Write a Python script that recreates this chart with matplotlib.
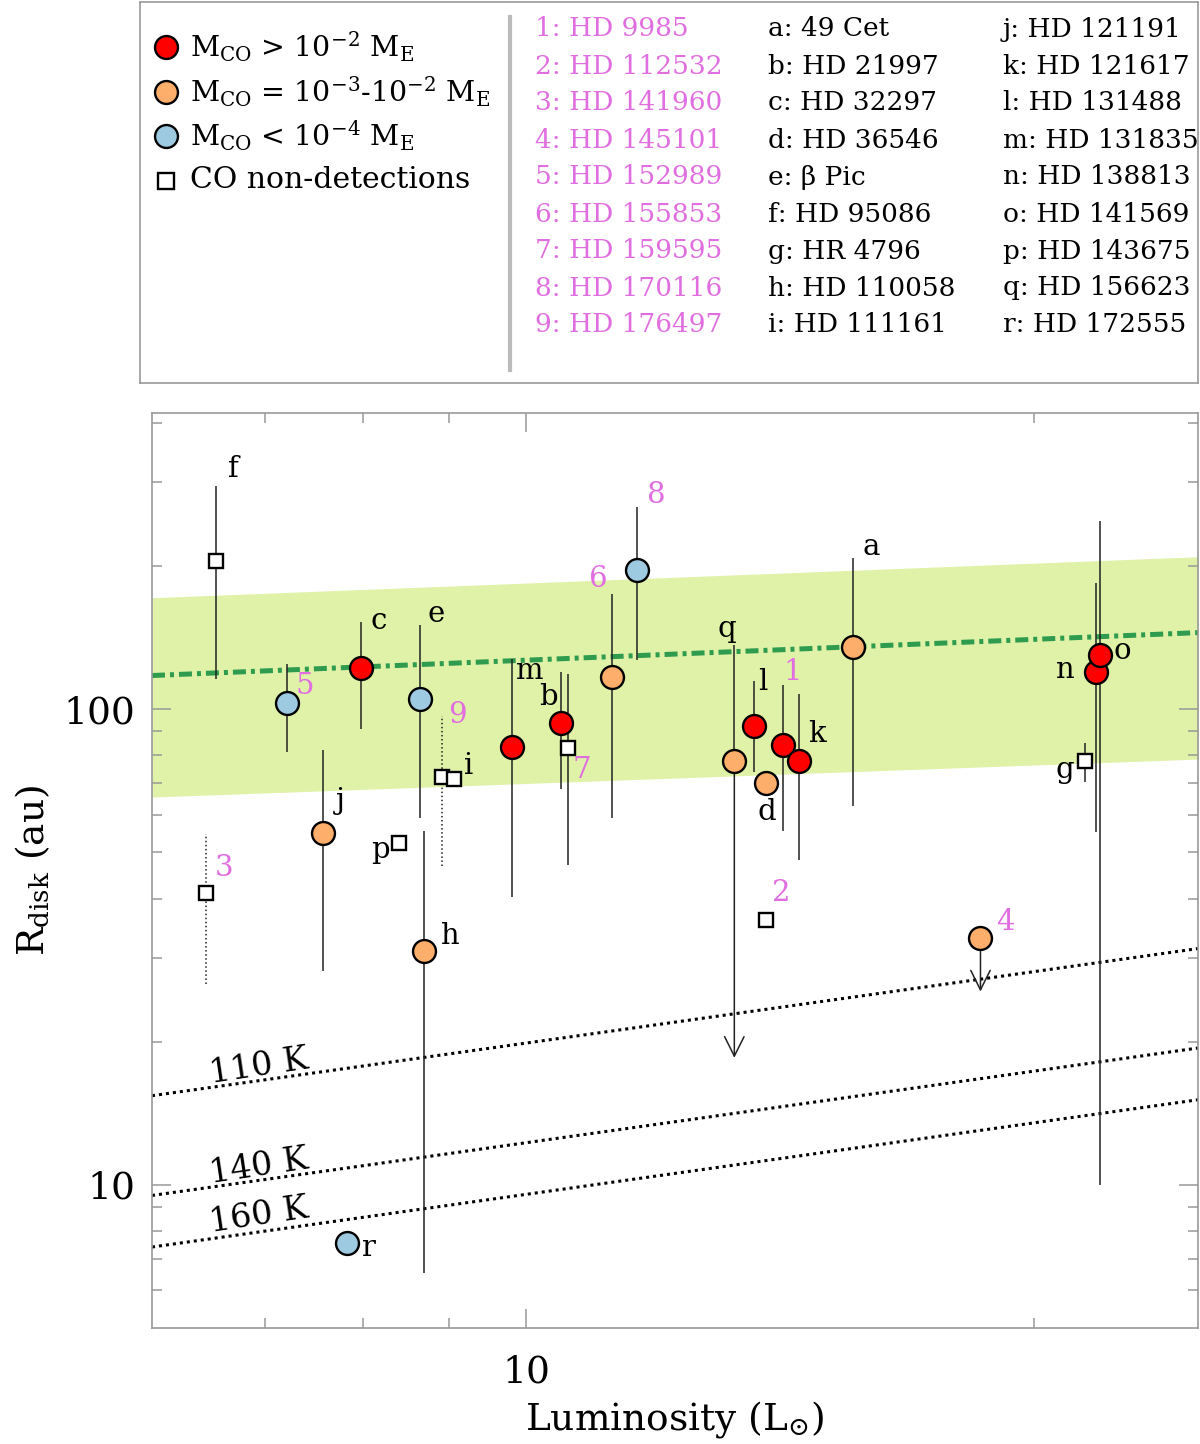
import numpy as np
import matplotlib
matplotlib.use("Agg")
from matplotlib import pyplot as plt
from matplotlib import ticker

plt.rcParams['font.family'] = 'DejaVu Serif'
plt.rcParams['mathtext.fontset'] = 'dejavuserif'

# ---- data (L in Lsun, R in au) ----
red_ids = ['c', 'm', 'b', 'l', '1', 'k', 'n', 'o']
red_L = [7.98, 9.81, 10.49, 13.64, 14.19, 14.51, 21.74, 21.88]
red_R = [122.3, 83.5, 93.8, 92.3, 84.1, 77.9, 120.0, 130.0]
red_lo = [91.1, 40.4, 68.0, 73.8, 55.4, 48.1, 55.1, 10.0]
red_hi = [152.9, 127.7, 119.7, 114.6, 112.4, 107.9, 184.4, 249.4]

orange_ids = ['j', 'h', '6', 'q', 'd', 'a', '4']
orange_L = [7.58, 8.70, 11.24, 13.28, 13.86, 15.61, 18.58]
orange_R = [55.0, 31.1, 116.9, 77.7, 70.0, 135.3, 33.1]
orange_lo = [28.2, 6.54, 59.1, 77.7, np.nan, 62.5, np.nan]
orange_hi = [82.0, 55.5, 175.1, 136.4, np.nan, 208.5, np.nan]

blue_ids = ['5', 'e', '8', 'r']
blue_L = [7.21, 8.65, 11.63, 7.83]
blue_R = [102.9, 104.9, 196.6, 7.56]
blue_lo = [81.2, 59.1, 126.9, np.nan]
blue_hi = [124.7, 150.2, 266.1, np.nan]

sq_ids = ['f', '9', 'i', '7', 'p', '3', '2', 'g']
sq_L = [6.55, 8.91, 9.06, 10.58, 8.40, 6.46, 13.87, 21.42]
sq_R = [205.6, 71.9, 71.3, 82.9, 52.4, 41.0, 36.1, 77.7]
sq_lo = [116.1, 46.9, np.nan, 47.1, np.nan, 26.5, np.nan, 70.4]
sq_hi = [294.9, 96.8, np.nan, 118.8, np.nan, 54.7, np.nan, 85.1]
dotted_ids = ['9', '3']

# upper limits (arrow tips)
arrow_ids = ['q', '4']
arrow_to = [18.5, 25.5]

# band + fitted line, given at the two ends of the axis
band_L = [6, 25]
band_lo = [65.4, 78.6]
band_hi = [171.7, 209.4]
band_mid = [117.8, 145.0]

# blackbody temperature lines
temp_labels = ['110 K', '140 K', '160 K']
temp_L = [6, 25]
temp_R = [[15.4, 31.4], [9.5, 19.4], [7.4, 15.1]]
temp_text_R = [16.4, 10.1, 7.95]

legend_numbered = ['1: HD 9985', '2: HD 112532', '3: HD 141960', '4: HD 145101',
                   '5: HD 152989', '6: HD 155853', '7: HD 159595', '8: HD 170116',
                   '9: HD 176497']
legend_col2 = ['a: 49 Cet', 'b: HD 21997', 'c: HD 32297', 'd: HD 36546',
               'e: β Pic', 'f: HD 95086', 'g: HR 4796', 'h: HD 110058',
               'i: HD 111161']
legend_col3 = ['j: HD 121191', 'k: HD 121617', 'l: HD 131488', 'm: HD 131835',
               'n: HD 138813', 'o: HD 141569', 'p: HD 143675', 'q: HD 156623',
               'r: HD 172555']

# label offsets in pixels (dx right, dy up)
label_off = {'f': (17, 92), '5': (18, 17), 'c': (18, 47), 'e': (16, 85),
             '9': (16, 62), 'i': (15, 13), 'm': (17, 76), 'b': (-13, 26),
             '7': (14, -22), '6': (-14, 98), '8': (19, 75), 'j': (17, 32),
             'p': (-18, -7), 'h': (26, 15), '3': (18, 25), 'q': (-7, 132),
             'l': (9, 44), '1': (10, 73), 'k': (18, 27), 'd': (1, -29),
             'a': (18, 100), '2': (15, 27), '4': (25, 16), 'g': (-20, -9),
             'n': (-30, 2), 'o': (22, 4), 'r': (22, -5)}

RED = '#ff0000'
ORANGE = '#fdae6b'
BLUE = '#9ecae1'
PINK = '#e06ee0'
GREY = '#999999'

fig = plt.figure(figsize=(12, 14.44), dpi=100)
ax = fig.add_axes([152 / 1200, 116 / 1444, 1046 / 1200, 915 / 1444])
ax.set_xscale('log')
ax.set_yscale('log')
ax.set_xlim(6, 25)
ax.set_ylim(5, 420)

ax.fill_between(band_L, band_lo, band_hi, color='#dff2a8', lw=0, zorder=0)
ax.plot(band_L, band_mid, color='#2e9b4f', lw=3.6, ls=(0, (2.6, 1.0, 0.8, 1.0)), zorder=1)

for lab, rr, ty in zip(temp_labels, temp_R, temp_text_R):
    ax.plot(temp_L, rr, color='black', lw=2.2, ls=(0, (1, 1.3)), zorder=1)
    ax.text(6.5, ty, lab, fontsize=24, rotation=8.5, rotation_mode='anchor',
            ha='left', va='baseline', zorder=3)

groups = [
    (red_ids, red_L, red_R, red_lo, red_hi, 'o', RED, 16.5),
    (orange_ids, orange_L, orange_R, orange_lo, orange_hi, 'o', ORANGE, 16.5),
    (blue_ids, blue_L, blue_R, blue_lo, blue_hi, 'o', BLUE, 16.5),
    (sq_ids, sq_L, sq_R, sq_lo, sq_hi, 's', 'white', 10.5),
]

for ids, L, R, lo, hi, mk, col, ms in groups:
    for i, name in enumerate(ids):
        if not np.isnan(lo[i]):
            ls = ':' if name in dotted_ids else '-'
            ax.vlines(L[i], lo[i], hi[i], color='#222222', lw=1.1, linestyles=ls, zorder=2)
    ax.plot(L, R, ls='none', marker=mk, ms=ms, mfc=col, mec='black', mew=1.7, zorder=4)
    for i, name in enumerate(ids):
        dx, dy = label_off[name]
        ax.annotate(name, (L[i], R[i]), xytext=(dx * 0.72, dy * 0.72),
                    textcoords='offset points', ha='center', va='center',
                    fontsize=21, color=PINK if name.isdigit() else 'black', zorder=5)

all_ids = red_ids + orange_ids + blue_ids + sq_ids
all_L = red_L + orange_L + blue_L + sq_L
all_R = red_R + orange_R + blue_R + sq_R
for name, tip in zip(arrow_ids, arrow_to):
    k = all_ids.index(name)
    ax.annotate('', xy=(all_L[k], tip), xytext=(all_L[k], all_R[k]),
                arrowprops=dict(arrowstyle='->,head_length=0.7,head_width=0.35',
                                color='#222222', lw=1.1, mutation_scale=20,
                                shrinkA=0, shrinkB=0), zorder=2)

ax.xaxis.set_major_locator(ticker.FixedLocator([10]))
ax.xaxis.set_minor_locator(ticker.FixedLocator([7, 8, 9, 20]))
ax.xaxis.set_major_formatter(ticker.FixedFormatter(['10']))
ax.xaxis.set_minor_formatter(ticker.NullFormatter())
ax.yaxis.set_major_locator(ticker.FixedLocator([10, 100]))
ax.yaxis.set_minor_locator(ticker.FixedLocator([6, 7, 8, 9, 20, 30, 40, 50, 60, 70, 80, 90,
                                                200, 300, 400]))
ax.yaxis.set_major_formatter(ticker.FixedFormatter(['10', '100']))
ax.yaxis.set_minor_formatter(ticker.NullFormatter())
ax.tick_params(which='both', direction='in', top=True, right=True, color=GREY, width=1.1)
ax.tick_params(which='major', length=14, labelsize=27)
ax.tick_params(which='minor', length=7)
ax.tick_params(axis='x', which='major', pad=19)
ax.tick_params(axis='y', which='major', pad=12)
for sp in ax.spines.values():
    sp.set_color(GREY)
    sp.set_linewidth(1.2)

ax.set_xlabel(r'Luminosity (L$_{\odot}$)', fontsize=27, labelpad=6)
ax.set_ylabel(r'R$_{\rm disk}$ (au)', fontsize=27, labelpad=8)

# ---- legend box on top ----
lg = fig.add_axes([140 / 1200, 1061 / 1444, 1058 / 1200, 381 / 1444])
lg.set_xlim(0, 1058)
lg.set_ylim(381, 0)
lg.set_xticks([])
lg.set_yticks([])
for sp in lg.spines.values():
    sp.set_color(GREY)
    sp.set_linewidth(1.2)

leg_items = [
    ('o', RED, r'M$_{\rm CO}$ > 10$^{-2}$ M$_{\rm E}$'),
    ('o', ORANGE, r'M$_{\rm CO}$ = 10$^{-3}$-10$^{-2}$ M$_{\rm E}$'),
    ('o', BLUE, r'M$_{\rm CO}$ < 10$^{-4}$ M$_{\rm E}$'),
    ('s', 'white', 'CO non-detections'),
]
for i, (mk, col, txt) in enumerate(leg_items):
    yy = 45 + i * 44.5
    lg.plot([26], [yy], marker=mk, ms=16.5 if mk == 'o' else 11, mfc=col,
            mec='black', mew=1.7, ls='none')
    fs = 21.5 if mk == 's' else 20.5
    lg.text(50, yy, txt, fontsize=fs, va='center', ha='left')

lg.plot([370, 370], [15, 368], color='#bbbbbb', lw=3)

for i in range(9):
    yy = 27 + i * 37
    lg.text(395, yy, legend_numbered[i], fontsize=19, color=PINK, va='center')
    lg.text(628, yy, legend_col2[i], fontsize=19, color='black', va='center')
    lg.text(863, yy, legend_col3[i], fontsize=19, color='black', va='center')

fig.savefig('out.png', dpi=100)
